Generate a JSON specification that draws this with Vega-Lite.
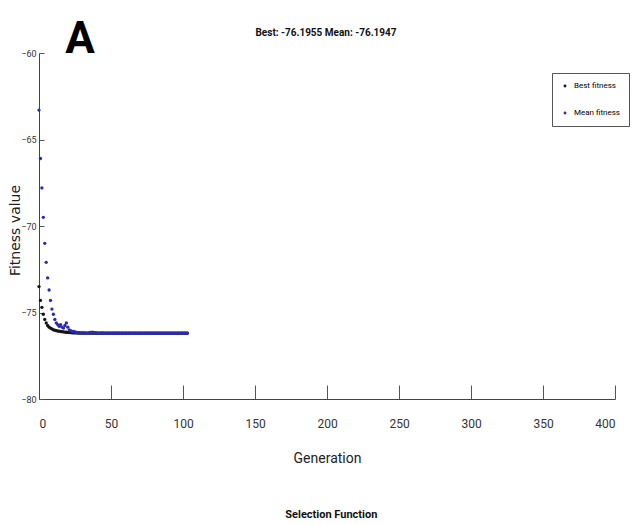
{
  "$schema": "https://vega.github.io/schema/vega-lite/v6.json",
  "width": 576,
  "height": 346,
  "autosize": {"type": "none"},
  "padding": {"left": 39, "top": 53, "right": 17, "bottom": 126},
  "background": "white",
  "config": {
    "view": {"stroke": null},
    "axis": {"domainColor": "#444", "tickColor": "#555", "labelColor": "#333", "titleColor": "#222", "grid": false, "labelFont": "Roboto, sans-serif"},
    "legend": {"labelFont": "Roboto, sans-serif"}
  },
  "datasets": {
    "ga": [
      {"g": 0, "Best fitness": -73.5, "Mean fitness": -63.3},
      {"g": 1, "Best fitness": -74.3, "Mean fitness": -66.1},
      {"g": 2, "Best fitness": -74.7, "Mean fitness": -67.8},
      {"g": 3, "Best fitness": -75.1, "Mean fitness": -69.5},
      {"g": 4, "Best fitness": -75.4, "Mean fitness": -71.0},
      {"g": 5, "Best fitness": -75.6, "Mean fitness": -72.1},
      {"g": 6, "Best fitness": -75.75, "Mean fitness": -73.0},
      {"g": 7, "Best fitness": -75.85, "Mean fitness": -73.7},
      {"g": 8, "Best fitness": -75.9, "Mean fitness": -74.3},
      {"g": 9, "Best fitness": -75.95, "Mean fitness": -74.8},
      {"g": 10, "Best fitness": -76.0, "Mean fitness": -75.1},
      {"g": 11, "Best fitness": -76.02, "Mean fitness": -75.4},
      {"g": 12, "Best fitness": -76.05, "Mean fitness": -75.6},
      {"g": 13, "Best fitness": -76.07, "Mean fitness": -75.7},
      {"g": 14, "Best fitness": -76.08, "Mean fitness": -75.8},
      {"g": 15, "Best fitness": -76.1, "Mean fitness": -75.7},
      {"g": 16, "Best fitness": -76.11, "Mean fitness": -75.85},
      {"g": 17, "Best fitness": -76.12, "Mean fitness": -75.9},
      {"g": 18, "Best fitness": -76.13, "Mean fitness": -75.75},
      {"g": 19, "Best fitness": -76.14, "Mean fitness": -75.6},
      {"g": 20, "Best fitness": -76.15, "Mean fitness": -75.85},
      {"g": 21, "Best fitness": -76.16, "Mean fitness": -76.0},
      {"g": 22, "Best fitness": -76.16, "Mean fitness": -76.05},
      {"g": 23, "Best fitness": -76.17, "Mean fitness": -76.1},
      {"g": 24, "Best fitness": -76.17, "Mean fitness": -76.1},
      {"g": 25, "Best fitness": -76.18, "Mean fitness": -76.12},
      {"g": 26, "Best fitness": -76.18, "Mean fitness": -76.15},
      {"g": 27, "Best fitness": -76.185, "Mean fitness": -76.15},
      {"g": 28, "Best fitness": -76.185, "Mean fitness": -76.17},
      {"g": 29, "Best fitness": -76.19, "Mean fitness": -76.18},
      {"g": 30, "Best fitness": -76.19, "Mean fitness": -76.18},
      {"g": 31, "Best fitness": -76.19, "Mean fitness": -76.185},
      {"g": 32, "Best fitness": -76.19, "Mean fitness": -76.185},
      {"g": 33, "Best fitness": -76.192, "Mean fitness": -76.19},
      {"g": 34, "Best fitness": -76.192, "Mean fitness": -76.19},
      {"g": 35, "Best fitness": -76.193, "Mean fitness": -76.17},
      {"g": 36, "Best fitness": -76.193, "Mean fitness": -76.15},
      {"g": 37, "Best fitness": -76.194, "Mean fitness": -76.14},
      {"g": 38, "Best fitness": -76.194, "Mean fitness": -76.15},
      {"g": 39, "Best fitness": -76.194, "Mean fitness": -76.17},
      {"g": 40, "Best fitness": -76.194, "Mean fitness": -76.18},
      {"g": 41, "Best fitness": -76.195, "Mean fitness": -76.19},
      {"g": 42, "Best fitness": -76.195, "Mean fitness": -76.19},
      {"g": 43, "Best fitness": -76.195, "Mean fitness": -76.19},
      {"g": 44, "Best fitness": -76.195, "Mean fitness": -76.185},
      {"g": 45, "Best fitness": -76.195, "Mean fitness": -76.19},
      {"g": 46, "Best fitness": -76.195, "Mean fitness": -76.19},
      {"g": 47, "Best fitness": -76.195, "Mean fitness": -76.192},
      {"g": 48, "Best fitness": -76.195, "Mean fitness": -76.19},
      {"g": 49, "Best fitness": -76.195, "Mean fitness": -76.192},
      {"g": 50, "Best fitness": -76.195, "Mean fitness": -76.193},
      {"g": 51, "Best fitness": -76.195, "Mean fitness": -76.19},
      {"g": 52, "Best fitness": -76.195, "Mean fitness": -76.192},
      {"g": 53, "Best fitness": -76.195, "Mean fitness": -76.193},
      {"g": 54, "Best fitness": -76.195, "Mean fitness": -76.193},
      {"g": 55, "Best fitness": -76.195, "Mean fitness": -76.194},
      {"g": 56, "Best fitness": -76.195, "Mean fitness": -76.193},
      {"g": 57, "Best fitness": -76.195, "Mean fitness": -76.194},
      {"g": 58, "Best fitness": -76.195, "Mean fitness": -76.194},
      {"g": 59, "Best fitness": -76.195, "Mean fitness": -76.193},
      {"g": 60, "Best fitness": -76.195, "Mean fitness": -76.194},
      {"g": 61, "Best fitness": -76.195, "Mean fitness": -76.194},
      {"g": 62, "Best fitness": -76.195, "Mean fitness": -76.194},
      {"g": 63, "Best fitness": -76.195, "Mean fitness": -76.195},
      {"g": 64, "Best fitness": -76.195, "Mean fitness": -76.194},
      {"g": 65, "Best fitness": -76.195, "Mean fitness": -76.194},
      {"g": 66, "Best fitness": -76.195, "Mean fitness": -76.195},
      {"g": 67, "Best fitness": -76.195, "Mean fitness": -76.194},
      {"g": 68, "Best fitness": -76.195, "Mean fitness": -76.194},
      {"g": 69, "Best fitness": -76.195, "Mean fitness": -76.195},
      {"g": 70, "Best fitness": -76.195, "Mean fitness": -76.194},
      {"g": 71, "Best fitness": -76.195, "Mean fitness": -76.195},
      {"g": 72, "Best fitness": -76.195, "Mean fitness": -76.194},
      {"g": 73, "Best fitness": -76.195, "Mean fitness": -76.195},
      {"g": 74, "Best fitness": -76.195, "Mean fitness": -76.194},
      {"g": 75, "Best fitness": -76.195, "Mean fitness": -76.195},
      {"g": 76, "Best fitness": -76.195, "Mean fitness": -76.194},
      {"g": 77, "Best fitness": -76.195, "Mean fitness": -76.195},
      {"g": 78, "Best fitness": -76.195, "Mean fitness": -76.194},
      {"g": 79, "Best fitness": -76.195, "Mean fitness": -76.195},
      {"g": 80, "Best fitness": -76.195, "Mean fitness": -76.194},
      {"g": 81, "Best fitness": -76.195, "Mean fitness": -76.195},
      {"g": 82, "Best fitness": -76.195, "Mean fitness": -76.194},
      {"g": 83, "Best fitness": -76.195, "Mean fitness": -76.195},
      {"g": 84, "Best fitness": -76.195, "Mean fitness": -76.194},
      {"g": 85, "Best fitness": -76.195, "Mean fitness": -76.195},
      {"g": 86, "Best fitness": -76.195, "Mean fitness": -76.194},
      {"g": 87, "Best fitness": -76.195, "Mean fitness": -76.195},
      {"g": 88, "Best fitness": -76.195, "Mean fitness": -76.194},
      {"g": 89, "Best fitness": -76.195, "Mean fitness": -76.195},
      {"g": 90, "Best fitness": -76.195, "Mean fitness": -76.194},
      {"g": 91, "Best fitness": -76.195, "Mean fitness": -76.195},
      {"g": 92, "Best fitness": -76.195, "Mean fitness": -76.194},
      {"g": 93, "Best fitness": -76.195, "Mean fitness": -76.195},
      {"g": 94, "Best fitness": -76.195, "Mean fitness": -76.194},
      {"g": 95, "Best fitness": -76.195, "Mean fitness": -76.195},
      {"g": 96, "Best fitness": -76.195, "Mean fitness": -76.194},
      {"g": 97, "Best fitness": -76.195, "Mean fitness": -76.195},
      {"g": 98, "Best fitness": -76.195, "Mean fitness": -76.194},
      {"g": 99, "Best fitness": -76.195, "Mean fitness": -76.195},
      {"g": 100, "Best fitness": -76.195, "Mean fitness": -76.194},
      {"g": 101, "Best fitness": -76.195, "Mean fitness": -76.195},
      {"g": 102, "Best fitness": -76.195, "Mean fitness": -76.194},
      {"g": 103, "Best fitness": -76.1955, "Mean fitness": -76.1947}
    ]
  },
  "layer": [
    {
      "data": {"name": "ga"},
      "transform": [{"fold": ["Best fitness", "Mean fitness"], "as": ["series", "value"]}],
      "mark": {"type": "point", "filled": true, "size": 11, "opacity": 1},
      "encoding": {
        "x": {"field": "g", "type": "quantitative", "scale": {"domain": [0, 400], "nice": false},
          "axis": {"title": "Generation", "values": [0, 50, 100, 150, 200, 250, 300, 350, 400], "tickSize": -14, "labelPadding": 33, "labelFontSize": 12, "titleFont": "Roboto, sans-serif", "titleFontSize": 14, "titleFontWeight": "normal", "titlePadding": 22}},
        "y": {"field": "value", "type": "quantitative", "scale": {"domain": [-80, -60], "nice": false, "zero": false},
          "axis": {"title": "Fitness value", "values": [-80, -75, -70, -65, -60], "tickSize": -5, "labelPadding": 8, "labelFontSize": 9, "titleFont": "DejaVu Sans, sans-serif", "titleFontSize": 14, "titleFontWeight": "normal", "titleX": -24, "titleY": 177, "titleBaseline": "middle", "titleAlign": "center", "titleAngle": -90}},
        "color": {"field": "series", "type": "nominal", "scale": {"domain": ["Best fitness", "Mean fitness"], "range": ["#141414", "#2a2ab0"]},
          "legend": {"title": null, "orient": "none", "legendX": 513, "legendY": 20, "strokeColor": "#555", "fillColor": "white", "padding": 9, "symbolSize": 8, "labelFontSize": 8, "rowPadding": 19, "labelOffset": 5, "labelLimit": 60}},
        "order": {"field": "series"}
      }
    },
    {
      "data": {"values": [{}]},
      "mark": {"type": "text", "font": "Roboto, sans-serif", "fontWeight": "bold", "fontSize": 10, "baseline": "middle", "align": "center", "color": "#111"},
      "encoding": {"x": {"datum": 199.3}, "y": {"datum": -58.84}, "text": {"value": "Best: -76.1955 Mean: -76.1947"}}
    },
    {
      "data": {"values": [{}]},
      "mark": {"type": "text", "font": "Roboto, sans-serif", "fontWeight": "bold", "fontSize": 44, "baseline": "alphabetic", "align": "center", "color": "#000"},
      "encoding": {"x": {"datum": 28.5}, "y": {"datum": -60}, "text": {"value": "A"}}
    },
    {
      "data": {"values": [{}]},
      "mark": {"type": "text", "font": "Roboto, sans-serif", "fontWeight": "bold", "fontSize": 11, "baseline": "alphabetic", "align": "center", "color": "#111"},
      "encoding": {"x": {"datum": 203}, "y": {"datum": -86.9}, "text": {"value": "Selection Function"}}
    }
  ]
}
